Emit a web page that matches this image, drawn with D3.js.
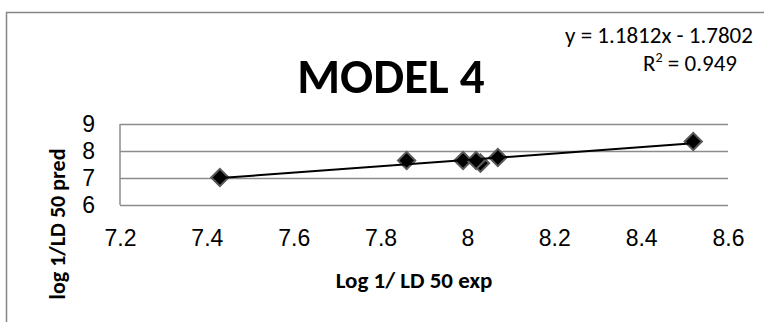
<!DOCTYPE html>
<html>
<head>
<meta charset="utf-8">
<script src="https://cdn.jsdelivr.net/npm/d3@7"></script>
<style>
  body { margin: 0; background: #fff; }
  svg { display: block; font-family: Carlito, Lato, sans-serif; }
</style>
</head>
<body>
<svg id="chart" width="764" height="322"></svg>
<script>
// data
var expValues  = [7.43, 7.86, 7.99, 8.03, 8.02, 8.07, 8.52];
var predValues = [7.02, 7.65, 7.65, 7.55, 7.65, 7.76, 8.35];
var xTicks = [7.2, 7.4, 7.6, 7.8, 8, 8.2, 8.4, 8.6];
var yTicks = [6, 7, 8, 9];
var trendSlope = 1.1812, trendIntercept = -1.7802;

var svg = d3.select('#chart'),
    margin = {top: 124, right: 36, bottom: 117, left: 120},
    width = 764 - margin.left - margin.right,
    height = 322 - margin.top - margin.bottom;

// outer frame
svg.append('rect')
    .attr('x', 6.5).attr('y', 12.5)
    .attr('width', 800).attr('height', 400)
    .attr('fill', 'none').attr('stroke', '#868686').attr('stroke-width', 1.5);

var g = svg.append('g').attr('transform', 'translate(' + margin.left + ',' + margin.top + ')');

var x = d3.scaleLinear().domain([7.2, 8.6]).range([0, width]),
    y = d3.scaleLinear().domain([6, 9]).range([height, 0]);

// horizontal gridlines
g.append('g')
    .attr('class', 'grid')
    .call(d3.axisLeft(y).tickValues(yTicks).tickSize(-width).tickFormat(''))
    .call(function(s) {
      s.select('.domain').remove();
      s.selectAll('line').attr('stroke', '#8c8c8c').attr('stroke-width', 1.5);
    });

// y axis line + labels
g.append('line')
    .attr('x1', 0).attr('x2', 0).attr('y1', 0).attr('y2', height)
    .attr('stroke', '#8c8c8c').attr('stroke-width', 1.5);

g.append('g')
    .call(d3.axisLeft(y).tickValues(yTicks).tickSize(0).tickPadding(25).tickFormat(d3.format('d')))
    .call(function(s) {
      s.select('.domain').remove();
      s.selectAll('text').style('font-size', '23px').attr('fill', '#000');
    });

// x axis labels (no line, axis sits at y = 6)
g.append('g')
    .attr('transform', 'translate(0,' + height + ')')
    .call(d3.axisBottom(x).tickValues(xTicks).tickSize(0).tickPadding(25).tickFormat(function(d) { return d3.format('')(d); }))
    .call(function(s) {
      s.select('.domain').remove();
      s.selectAll('text').style('font-size', '23px').attr('fill', '#000');
    });

// points
var diamond = d3.symbol().type(d3.symbolSquare).size(150);
g.selectAll('.pt')
    .data(expValues.map(function(d, i) { return {x: d, y: predValues[i]}; }))
    .enter().append('path')
      .attr('class', 'pt')
      .attr('d', diamond)
      .attr('transform', function(d) { return 'translate(' + x(d.x) + ',' + y(d.y) + ') rotate(45)'; })
      .attr('fill', '#000')
      .attr('stroke', '#5a5a5a')
      .attr('stroke-width', 2);

// linear trendline over the data range
var xExt = d3.extent(expValues);
g.append('line')
    .attr('x1', x(xExt[0])).attr('y1', y(trendSlope * xExt[0] + trendIntercept))
    .attr('x2', x(xExt[1])).attr('y2', y(trendSlope * xExt[1] + trendIntercept))
    .attr('stroke', '#000').attr('stroke-width', 2);

// titles
svg.append('text')
    .attr('x', 391).attr('y', 93)
    .attr('text-anchor', 'middle')
    .style('font-size', '49px').style('font-weight', 'bold')
    .text('MODEL 4');

svg.append('text')
    .attr('x', 659).attr('y', 43)
    .attr('text-anchor', 'middle')
    .style('font-size', '23px')
    .text('y = 1.1812x - 1.7802');

var r2 = svg.append('text')
    .attr('x', 690).attr('y', 71)
    .attr('text-anchor', 'middle')
    .style('font-size', '23px');
r2.append('tspan').text('R');
r2.append('tspan').attr('dy', -9).style('font-size', '14px').text('2');
r2.append('tspan').attr('dy', 9).text(' = 0.949');

svg.append('text')
    .attr('x', 414).attr('y', 288)
    .attr('text-anchor', 'middle')
    .style('font-size', '23px').style('font-weight', 'bold')
    .text('Log 1/ LD 50 exp');

svg.append('text')
    .attr('transform', 'translate(65,224) rotate(-90)')
    .attr('text-anchor', 'middle')
    .style('font-size', '22px').style('font-weight', 'bold')
    .text('log 1/LD 50 pred');
</script>
</body>
</html>
